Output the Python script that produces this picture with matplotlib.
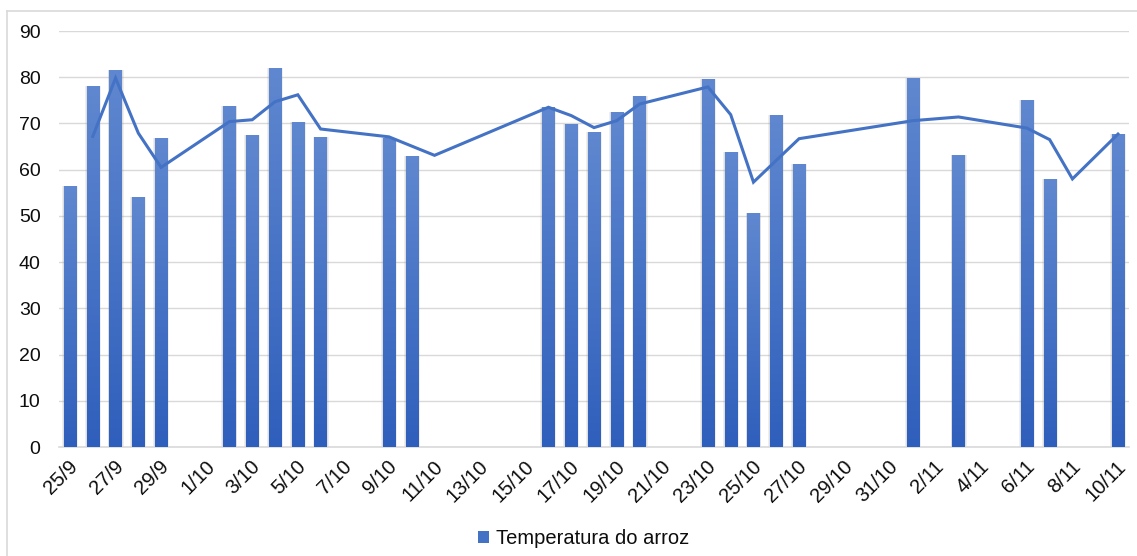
import matplotlib
matplotlib.use("Agg")
import matplotlib.pyplot as plt
import matplotlib.transforms as mtransforms
import numpy as np
from matplotlib.colors import LinearSegmentedColormap
from matplotlib.patches import Patch
from matplotlib.lines import Line2D

plt.rcParams['font.family'] = ['Liberation Sans', 'DejaVu Sans']

dates = (["%d/9" % d for d in range(25, 31)] +
         ["%d/10" % d for d in range(1, 32)] +
         ["%d/11" % d for d in range(1, 11)])

# rice temperature (bars), None = no measurement
rice_temp = {
    "25/9": 56.5, "26/9": 78.0, "27/9": 81.5, "28/9": 54.0, "29/9": 66.9,
    "2/10": 73.8, "3/10": 67.6, "4/10": 81.9, "5/10": 70.4, "6/10": 67.1,
    "9/10": 66.9, "10/10": 63.0,
    "16/10": 73.6, "17/10": 69.9, "18/10": 68.2, "19/10": 72.5, "20/10": 76.0,
    "23/10": 79.7, "24/10": 63.9, "25/10": 50.6, "26/10": 71.9, "27/10": 61.3,
    "1/11": 79.8, "3/11": 63.1, "6/11": 75.0, "7/11": 57.9, "10/11": 67.7,
}

# line series
line_vals = {
    "26/9": 67.2, "27/9": 79.8, "28/9": 67.9, "29/9": 60.5,
    "2/10": 70.4, "3/10": 70.8, "4/10": 74.7, "5/10": 76.2, "6/10": 68.8,
    "9/10": 67.1, "11/10": 63.1,
    "16/10": 73.5, "17/10": 71.7, "18/10": 69.1, "19/10": 70.6, "20/10": 74.2,
    "23/10": 77.9, "24/10": 71.9, "25/10": 57.3, "27/10": 66.7,
    "1/11": 70.6, "3/11": 71.4, "6/11": 69.0, "7/11": 66.5, "8/11": 58.0,
    "10/11": 67.7,
}

legend_label = "Temperatura do arroz"
y_ticks = list(range(0, 100, 10))

W, H = 1137, 556
fig = plt.figure(figsize=(W / 100, H / 100), dpi=100)
ax = fig.add_axes([58.6 / W, 1 - 447 / H, 1070.8 / W, (447 - 31) / H])

x = np.arange(len(dates))
bar_x = [i for i, d in enumerate(dates) if d in rice_temp]
bar_y = [rice_temp[dates[i]] for i in bar_x]

cmap = LinearSegmentedColormap.from_list("g", ["#2f5fbc", "#6088d0"])
grad = np.linspace(0, 1, 256).reshape(-1, 1)
bw = 0.54

# soft shadow
ax.bar(bar_x, bar_y, width=bw + 0.16, color="#808080", alpha=0.12, zorder=2, linewidth=0)
ax.bar(bar_x, bar_y, width=bw + 0.08, color="#808080", alpha=0.15, zorder=2, linewidth=0)
bars = ax.bar(bar_x, bar_y, width=bw, color="#4472C4", zorder=3, linewidth=0)
for r in bars:
    x0, w_, h_ = r.get_x(), r.get_width(), r.get_height()
    im = ax.imshow(grad, extent=[x0, x0 + w_, 0, h_], origin="lower",
                   aspect="auto", cmap=cmap, zorder=4)
    im.set_clip_path(r)

lx = [i for i, d in enumerate(dates) if d in line_vals]
ly = [line_vals[dates[i]] for i in lx]
ax.plot(lx, ly, color="#4472C4", lw=2.2, zorder=5, solid_joinstyle="miter")

ax.set_xlim(-0.5, len(dates) - 0.5)
ax.set_ylim(0, 90)
ax.set_yticks(y_ticks)
ax.yaxis.grid(True, color="#d9d9d9", lw=1)
ax.set_axisbelow(True)
for s in ["top", "right", "left"]:
    ax.spines[s].set_visible(False)
ax.spines["bottom"].set_color("#d9d9d9")
ax.spines["bottom"].set_linewidth(1.2)
ax.tick_params(axis="y", length=0, pad=13, labelsize=14, labelcolor="#0d0d0d")
ax.set_xticks(x[::2])
ax.set_xticklabels(dates[::2], rotation=45, ha="right", va="center",
                   rotation_mode="anchor", fontsize=14.5, color="#0d0d0d")
ax.tick_params(axis="x", length=0, pad=12)
offset = mtransforms.ScaledTranslation(5 / 100, 0, fig.dpi_scale_trans)
for lab in ax.get_xticklabels():
    lab.set_transform(lab.get_transform() + offset)

# legend
fig.legend(handles=[Patch(facecolor="#4472C4", edgecolor="none")], labels=[legend_label],
           loc="center", bbox_to_anchor=(584 / W, 1 - 539 / H), frameon=False,
           fontsize=14.5, handlelength=0.55, handleheight=0.55, handletextpad=0.35,
           labelcolor="#0d0d0d")

# chart border (left and top visible)
fig.add_artist(Line2D([7 / W, 7 / W], [0, 1 - 11 / H], color="#d9d9d9", lw=1.2,
                      transform=fig.transFigure))
fig.add_artist(Line2D([7 / W, 1], [1 - 11 / H, 1 - 11 / H], color="#d9d9d9", lw=1.2,
                      transform=fig.transFigure))

fig.savefig("out.png", dpi=100)
